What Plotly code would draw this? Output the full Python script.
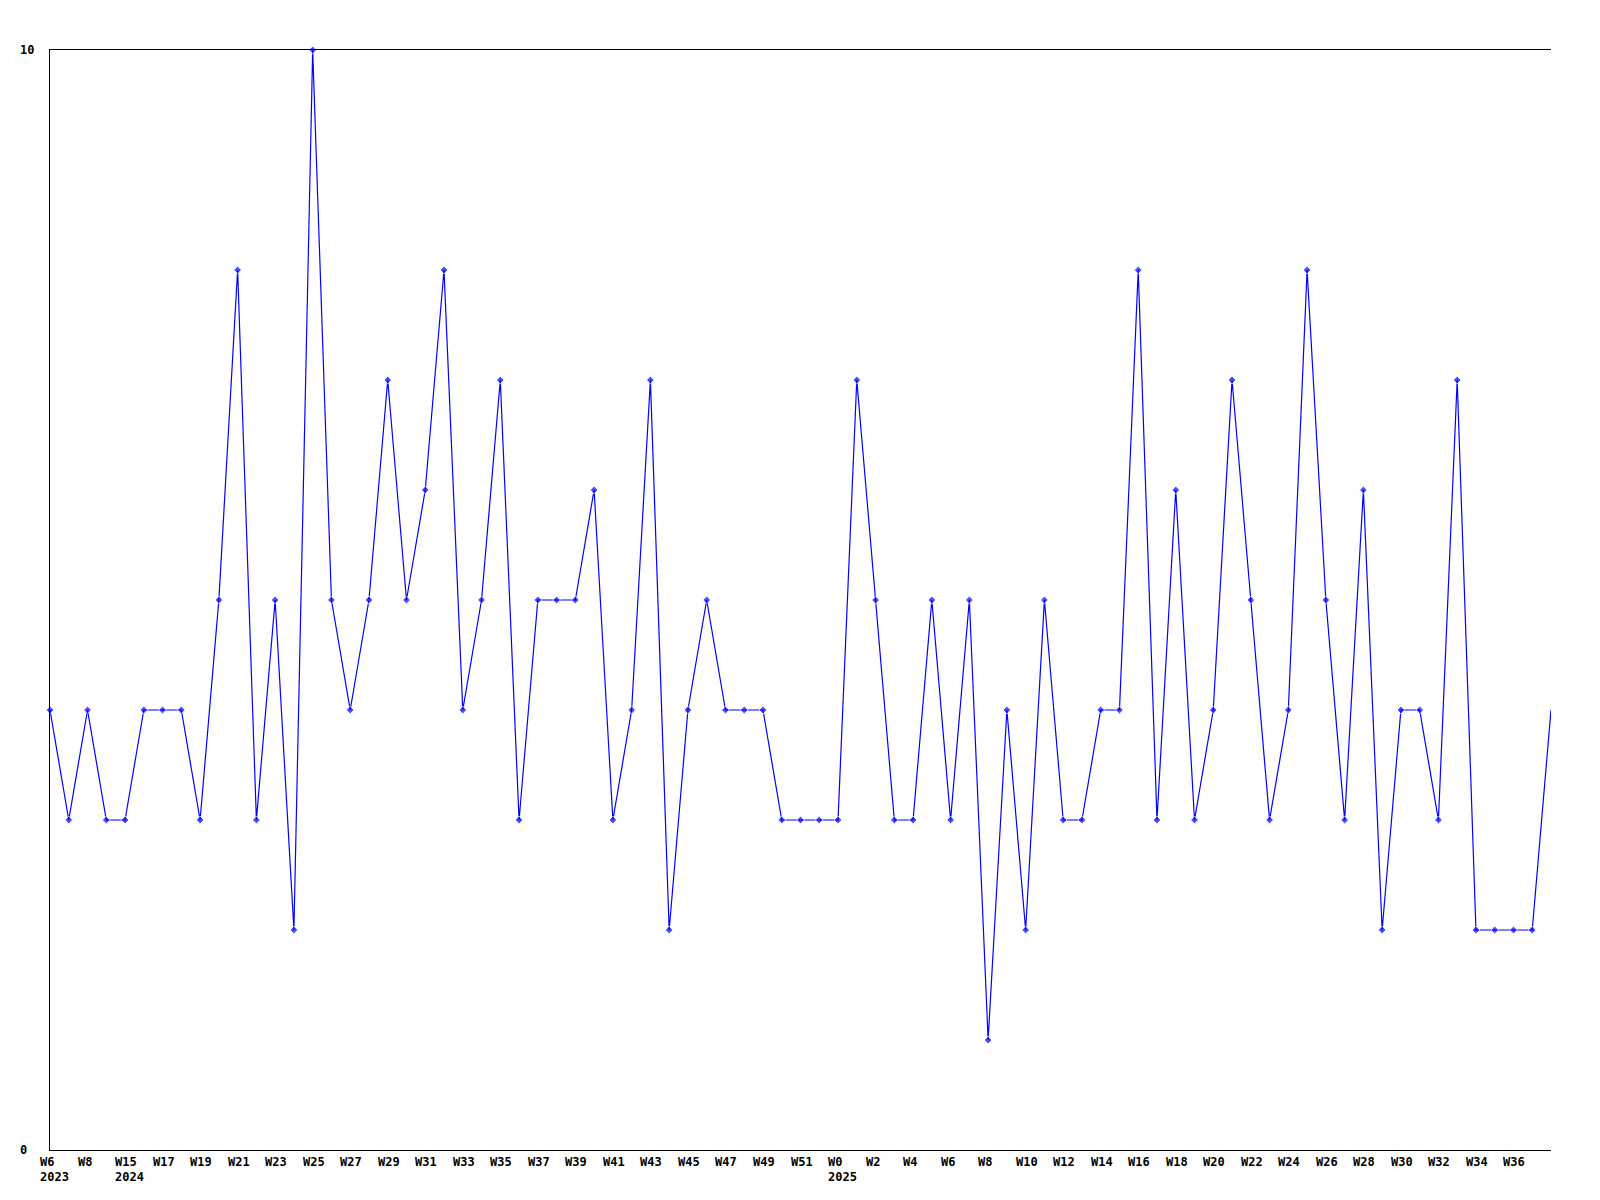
import plotly.graph_objects as go

weeks = ["W6", "W7", "W8", "W9", "W15", "W16", "W17", "W18", "W19", "W20",
         "W21", "W22", "W23", "W24", "W25", "W26", "W27", "W28", "W29", "W30",
         "W31", "W32", "W33", "W34", "W35", "W36", "W37", "W38", "W39", "W40",
         "W41", "W42", "W43", "W44", "W45", "W46", "W47", "W48", "W49", "W50",
         "W51", "W52", "W0", "W1", "W2", "W3", "W4", "W5", "W6", "W7",
         "W8", "W9", "W10", "W11", "W12", "W13", "W14", "W15", "W16", "W17",
         "W18", "W19", "W20", "W21", "W22", "W23", "W24", "W25", "W26", "W27",
         "W28", "W29", "W30", "W31", "W32", "W33", "W34", "W35", "W36", "W37",
         "W38"]
years = {0: "2023", 4: "2024", 42: "2025"}
values = [4, 3, 4, 3, 3, 4, 4, 4, 3, 5,
          8, 3, 5, 2, 10, 5, 4, 5, 7, 5,
          6, 8, 4, 5, 7, 3, 5, 5, 5, 6,
          3, 4, 7, 2, 4, 5, 4, 4, 4, 3,
          3, 3, 3, 7, 5, 3, 3, 5, 3, 5,
          1, 4, 2, 5, 3, 3, 4, 4, 8, 3,
          6, 3, 4, 7, 5, 3, 4, 8, 5, 3,
          6, 2, 4, 4, 3, 7, 2, 2, 2, 2,
          4]
y_labels = [0, 10]

idx = list(range(len(values)))
sizes = [6] * (len(values) - 1) + [0]

fig = go.Figure()
fig.add_trace(go.Scatter(
    x=idx, y=values, mode="lines+markers",
    line=dict(color="#0000ff", width=1.2),
    marker=dict(symbol="diamond", size=sizes, color="#0000ff"),
    cliponaxis=False, hoverinfo="skip", showlegend=False,
))

font = dict(family="DejaVu Sans Mono", size=12, color="black")
ann = []
for i in range(0, len(values) - 1, 2):
    ann.append(dict(x=i, y=0, xref="x", yref="paper", text="<b>%s</b>" % weeks[i],
                    showarrow=False, xanchor="left", yanchor="middle",
                    xshift=-12, yshift=-12, font=font))
    if i in years:
        ann.append(dict(x=i, y=0, xref="x", yref="paper", text="<b>%s</b>" % years[i],
                        showarrow=False, xanchor="left", yanchor="middle",
                        xshift=-12, yshift=-27, font=font))
for v in y_labels:
    ann.append(dict(x=0, y=v, xref="paper", yref="y", text="<b>%d</b>" % v,
                    showarrow=False, xanchor="left", yanchor="middle",
                    xshift=-32, font=font))

fig.update_layout(
    width=1600, height=1200,
    margin=dict(l=42, r=57, t=42, b=58),
    paper_bgcolor="white", plot_bgcolor="white",
    annotations=ann,
    xaxis=dict(range=[0, len(values) - 1], showgrid=False, zeroline=False,
               showticklabels=False, ticks="", showline=True, mirror=True,
               linecolor="black", linewidth=1),
    yaxis=dict(range=[0, 10], showgrid=False, zeroline=False,
               showticklabels=False, ticks="", showline=True, mirror=False,
               linecolor="black", linewidth=1),
)
fig.write_html("out.html")
